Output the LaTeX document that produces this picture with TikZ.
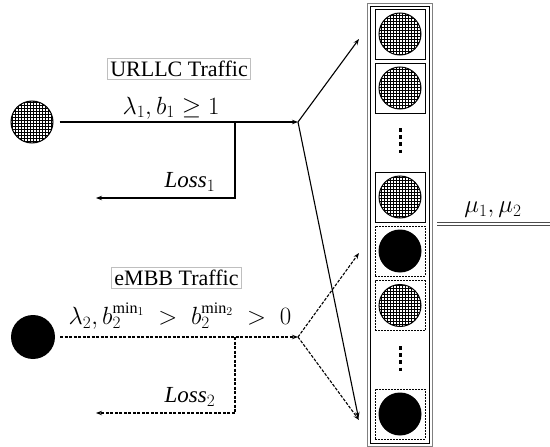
\documentclass[tikz,border=0pt]{standalone}
\usepackage{fontspec}
\setmainfont{Liberation Serif}
\usetikzlibrary{patterns,arrows.meta}
\begin{document}
\begin{tikzpicture}[x=1pt,y=-1pt,
 ln/.style={line width=1.1pt},
 arr/.style={-{Stealth[length=6pt,width=4.5pt]}},
 dsh/.style={dash pattern=on 3pt off 1.5pt},
 hatch/.style={circle,draw,line width=1pt,minimum size=42pt,inner sep=0,pattern=grid},
 blk/.style={circle,fill=black,minimum size=43pt,inner sep=0},
 slot/.style={draw,line width=0.9pt,minimum width=50pt,minimum height=50pt,inner sep=0},
 dslot/.style={slot,dash pattern=on 2pt off 1pt},
 lbl/.style={draw=gray!50,line width=1pt,fill=white,inner sep=2.5pt,font=\fontsize{22}{25}\selectfont},
 mth/.style={font=\fontsize{23}{26}\selectfont,inner sep=0},
 vdots/.style={line width=3pt,dash pattern=on 3.5pt off 3.7pt},
 mline/.style={line width=0.9pt,gray!60!black}
]
\useasboundingbox (0,0) rectangle (550,447);
% queue outer double box
\draw[gray,line width=0.9pt] (367,3) rectangle (432.3,446);
\draw[line width=0.9pt] (370,6) rectangle (429.5,443);
% slots
\node[slot] (s1) at (400,34) {};
\node[hatch] (c1) at (s1) {};
\node[slot] (s2) at (400,88) {};
\node[hatch] (c2) at (s2) {};
\node[slot] (s3) at (400,197) {};
\node[hatch] (c3) at (s3) {};
\node[dslot] (s4) at (400,251) {};
\node[blk] (c4) at (s4) {};
\node[dslot] (s5) at (400,305.5) {};
\node[hatch] (c5) at (s5) {};
\node[dslot] (s6) at (400,414) {};
\node[blk] (c6) at (s6) {};
\coordinate (d1a) at (400,128); \coordinate (d1b) at (400,156);
\coordinate (d2a) at (400,346); \coordinate (d2b) at (400,374);
\draw[vdots] (d1a) -- (d1b);
\draw[vdots] (d2a) -- (d2b);
% sources
\node[hatch] (src1) at (32,122) {};
\node[blk,minimum size=44pt] (src2) at (33,337) {};
% coordinates
\coordinate (sp1) at (298,122);
\coordinate (t1) at (359,39);
\coordinate (b1) at (358.5,418);
\coordinate (j1) at (235,122);
\coordinate (l1) at (96,198);
\coordinate (sp2) at (298,337);
\coordinate (t2) at (359,253);
\coordinate (b2) at (359,420);
\coordinate (j2) at (235,337);
\coordinate (l2) at (96,413);
% URLLC connectors
\draw[ln,arr,shorten <=6pt] (src1) -- (sp1);
\draw[ln,arr] (sp1) -- (t1);
\draw[ln,arr] (sp1) -- (b1);
\draw[ln,arr] (j1) |- (l1);
% eMBB connectors
\draw[ln,dsh,arr,shorten <=5pt] (src2) -- (sp2);
\draw[ln,dsh,arr] (sp2) -- (t2);
\draw[ln,dsh,arr] (sp2) -- (b2);
\draw[ln,dsh,arr] (j2) |- (l2);
% labels
\node[lbl] (u) at (179,69) {URLLC Traffic};
\node[mth] (ul) at (171,108) {$\lambda_1, b_1 \geq 1$};
\node[mth] (loss1) at (190,182) {$\mathit{Loss}_1$};
\node[lbl] (e) at (176.5,278) {eMBB Traffic};
\node[mth] (el) at (180,316) {$\lambda_2, b_2^{\min_1} \;>\; b_2^{\min_2} \;>\; 0$};
\node[mth] (loss2) at (190,397) {$\mathit{Loss}_2$};
\node[mth] (mu) at (493,210) {$\mu_1, \mu_2$};
\coordinate (m1) at (437,222.8); \coordinate (m2) at (550,222.8);
\coordinate (m3) at (437,225.4); \coordinate (m4) at (550,225.4);
\draw[mline] (m1) -- (m2);
\draw[mline] (m3) -- (m4);
\end{tikzpicture}
\end{document}
